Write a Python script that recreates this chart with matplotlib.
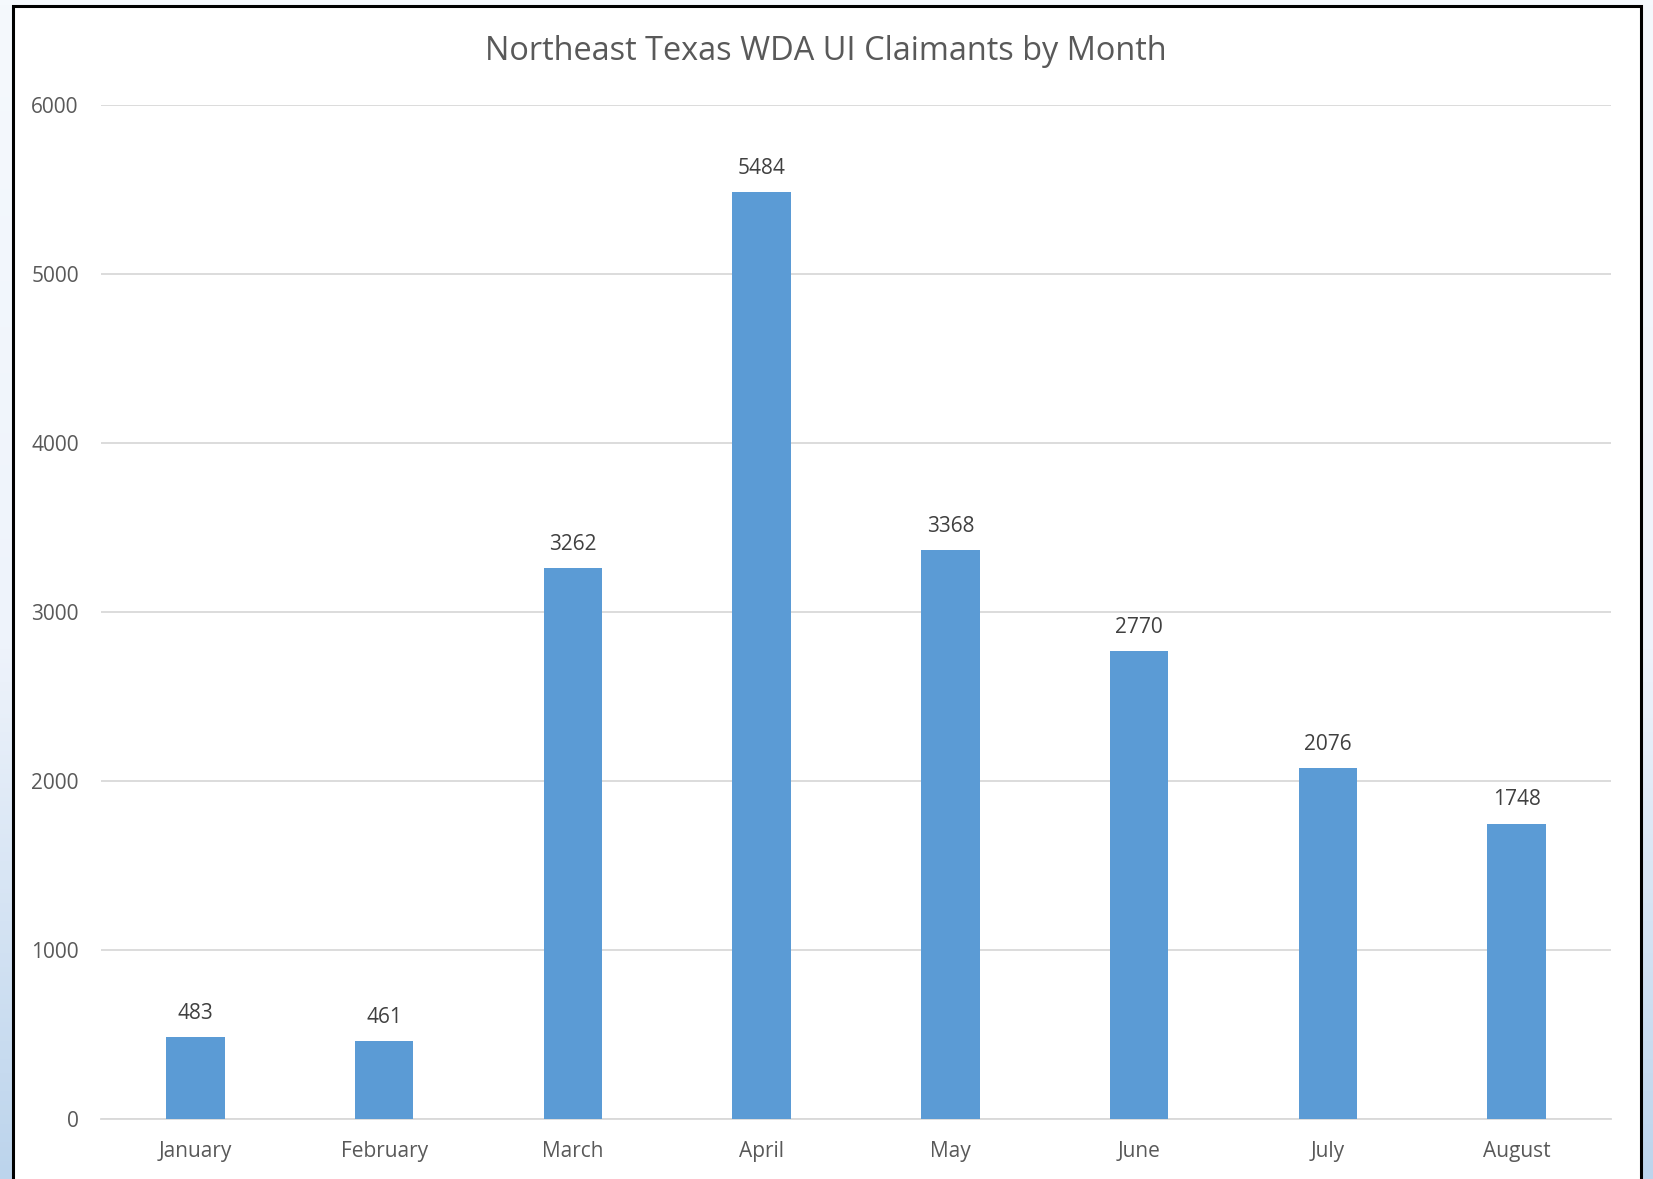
import matplotlib
matplotlib.use("Agg")
import matplotlib.pyplot as plt
import numpy as np
from matplotlib.colors import LinearSegmentedColormap
from matplotlib.patches import Rectangle

months = ["January", "February", "March", "April", "May", "June", "July", "August"]
claimants = [483, 461, 3262, 5484, 3368, 2770, 2076, 1748]
y_ticks = [0, 1000, 2000, 3000, 4000, 5000, 6000]

plt.rcParams['font.family'] = ['Open Sans', 'DejaVu Sans']

W, H = 1653, 1179
fig = plt.figure(figsize=(W / 100, H / 100), dpi=100)

# light blue gradient behind the chart frame
bg = fig.add_axes([0, 0, 1, 1])
grad_map = LinearSegmentedColormap.from_list(
    "bg", [(0, "#F5F9FD"), (0.55, "#EEF3FB"), (1, "#BCD4EC")])
bg.imshow(np.linspace(0, 1, 256).reshape(-1, 1), aspect='auto', cmap=grad_map,
          extent=(0, 1, 0, 1), origin='upper')
bg.set_xlim(0, 1)
bg.set_ylim(0, 1)
bg.axis('off')

# white chart frame with black border
bg.add_patch(Rectangle((13 / W, -0.01), (1641 - 13) / W, (H - 6) / H + 0.01,
                       facecolor='white', edgecolor='black', linewidth=2.2,
                       transform=bg.transAxes, zorder=2))

ax = fig.add_axes([101 / W, 1 - 1119 / H, (1611 - 101) / W, (1119 - 105) / H])
ax.set_facecolor('none')
x = np.arange(len(months))
bars = ax.bar(x, claimants, width=0.31, color='#5B9BD5', zorder=3)

for xi, v in zip(x, claimants):
    ax.annotate(str(v), (xi, v), xytext=(0, 17), textcoords='offset points',
                ha='center', va='center', fontsize=15, color='#404040')

ax.set_xlim(-0.5, len(months) - 0.5)
ax.set_ylim(0, 6000)
ax.set_yticks(y_ticks)
ax.set_xticks(x)
ax.set_xticklabels(months)
ax.yaxis.grid(True, color='#D9D9D9', linewidth=1.3, zorder=0)
ax.set_axisbelow(True)
for s in ['top', 'right', 'left']:
    ax.spines[s].set_visible(False)
ax.spines['bottom'].set_color('#D9D9D9')
ax.spines['bottom'].set_linewidth(1.3)
ax.tick_params(axis='both', length=0, colors='#595959', labelsize=15)
ax.tick_params(axis='y', pad=16)
ax.tick_params(axis='x', pad=16)

fig.text(826 / W, 1 - 51 / H, "Northeast Texas WDA UI Claimants by Month",
         ha='center', va='center', fontsize=23.4, color='#595959')

fig.savefig("out.png", dpi=100)
